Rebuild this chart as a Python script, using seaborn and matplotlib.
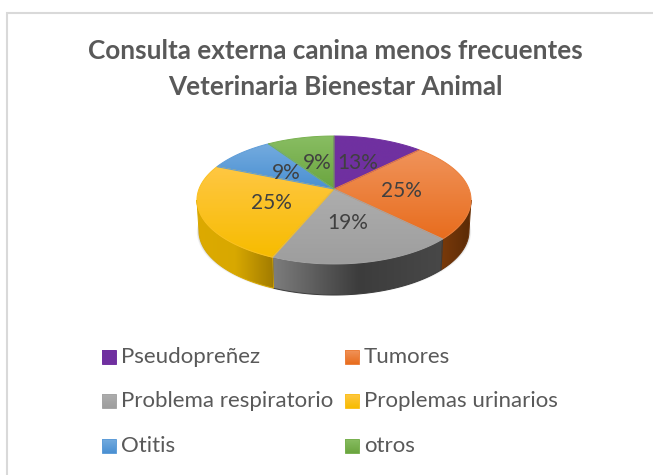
import numpy as np
import seaborn as sns
import matplotlib.pyplot as plt
from matplotlib.colors import LinearSegmentedColormap
from matplotlib.patches import Polygon, Rectangle

categories = ['Pseudopreñez', 'Tumores', 'Problema respiratorio', 'Proplemas urinarios', 'Otitis', 'otros']
values = [4, 8, 6, 8, 3, 3]

top_colors = [
    ['#7030A0', '#7030A0'],
    ['#F0935A', '#E86D1E'],
    ['#ADADAD', '#9E9E9E'],
    ['#FFC743', '#F7BC00'],
    ['#74ABDF', '#4A90D2'],
    ['#88BD62', '#6BA53F'],
]
wall_colors = [
    ['#4A2070', '#4A2070'],
    ['#7A3A0A', '#5A2A06'],
    ['#7C7C7C', '#3C3C3C', '#484848'],
    ['#DDAA00', '#D8A800', '#A27C00'],
    ['#2F6090', '#2F6090'],
    ['#4A7530', '#4A7530'],
]
label_pos = [(358, 163), (401, 191), (348, 223), (271, 203), (286, 173), (317, 163)]

legend_x = [102, 345]
legend_y = [357, 401, 446]

# pie geometry, in pixels
CX, CY = 334, 189
K, A, C = 135, 62.1, -0.172
DEPTH = 31


def project(theta, r=1.0, depth=0, shrink=1.0):
    # theta in degrees, clockwise from the top of the pie
    t = np.radians(theta)
    u = r * np.sin(t)
    v = -r * np.cos(t)
    w = 1 + C * v
    return CX + shrink * K * u / w, CY + A * v / w + depth


def grad_fill(ax, verts, colors, horizontal=False, zorder=2):
    verts = np.asarray(verts)
    x0, y0 = verts.min(axis=0)
    x1, y1 = verts.max(axis=0)
    cmap = LinearSegmentedColormap.from_list('g', colors)
    g = np.linspace(0, 1, 64)
    g = g.reshape(1, -1) if horizontal else g.reshape(-1, 1)
    patch = Polygon(verts, closed=True, transform=ax.transData, fc='none', ec='none')
    ax.add_patch(patch)
    im = ax.imshow(g, cmap=cmap, extent=(x0, x1, y1, y0), aspect='auto', origin='upper',
                   zorder=zorder, interpolation='bilinear')
    im.set_clip_path(patch)
    # soft edge, image clipping is not antialiased
    mid = cmap(0.5)
    ax.add_patch(Polygon(verts, closed=True, fc='none', ec=mid, lw=0.7, zorder=zorder + 0.1))


sns.set_theme(style='white')
plt.rcParams['font.family'] = ['Lato', 'DejaVu Sans']

fig = plt.figure(figsize=(6.53, 4.75), dpi=100)
ax = fig.add_axes([0, 0, 1, 1])
ax.set_axis_off()

# chart frame, runs off the right and bottom of the picture
ax.add_patch(Rectangle((6.5, 12.5), 660, 480, fc='white', ec='#D9D9D9', lw=1.5, zorder=0))

# soft shadow below the pie
circle = np.linspace(0, 360, 240)
for grow, alpha in zip([4, 3, 2, 1], [0.05, 0.07, 0.09, 0.12]):
    sx, sy = project(circle, depth=DEPTH + grow * 0.5 - 1)
    sx = CX + (sx - CX) * (0.985 + grow * 0.004)
    ax.fill(sx, sy, color='#404040', alpha=alpha, lw=0, zorder=1)

total = sum(values)
angles = np.concatenate([[0], np.cumsum(values) / total * 360])
wall_lo = 90 + np.degrees(np.arcsin(-C))
wall_hi = 360 - wall_lo

# side wall of each visible slice
for i in range(len(values)):
    a = max(angles[i], wall_lo)
    b = min(angles[i + 1], wall_hi)
    if b <= a:
        continue
    th = np.linspace(a, b, 80)
    x_top, y_top = project(th)
    x_bot, y_bot = project(th, depth=DEPTH, shrink=0.985)
    verts = np.column_stack([np.r_[x_top, x_bot[::-1]], np.r_[y_top, y_bot[::-1]]])
    grad_fill(ax, verts, wall_colors[i], horizontal=True, zorder=2)

# top of the pie
for i in range(len(values)):
    th = np.linspace(angles[i], angles[i + 1], 80)
    x, y = project(th)
    verts = np.column_stack([np.r_[CX, x], np.r_[CY, y]])
    grad_fill(ax, verts, top_colors[i], zorder=3)

# percent labels
for v, (lx, ly) in zip(values, label_pos):
    ax.text(lx, ly, f'{int(v / total * 100 + 0.5)}%', ha='center', va='center',
            fontsize=15, color='#404040', zorder=5)

ax.text(335, 51, 'Consulta externa canina menos frecuentes', ha='center', va='center',
        fontsize=18.8, fontweight='bold', color='#595959')
ax.text(335, 87, 'Veterinaria Bienestar Animal', ha='center', va='center',
        fontsize=18.8, fontweight='bold', color='#595959')

# legend, two columns and three rows
for i, name in enumerate(categories):
    lx = legend_x[i % 2]
    ly = legend_y[i // 2]
    sq = [(lx, ly - 7), (lx + 14, ly - 7), (lx + 14, ly + 7), (lx, ly + 7)]
    grad_fill(ax, sq, top_colors[i], zorder=3)
    ax.text(lx + 19, ly, name, ha='left', va='center', fontsize=16, color='#595959')

ax.set_xlim(0, 653)
ax.set_ylim(475, 0)

plt.savefig('out.png', dpi=100)
